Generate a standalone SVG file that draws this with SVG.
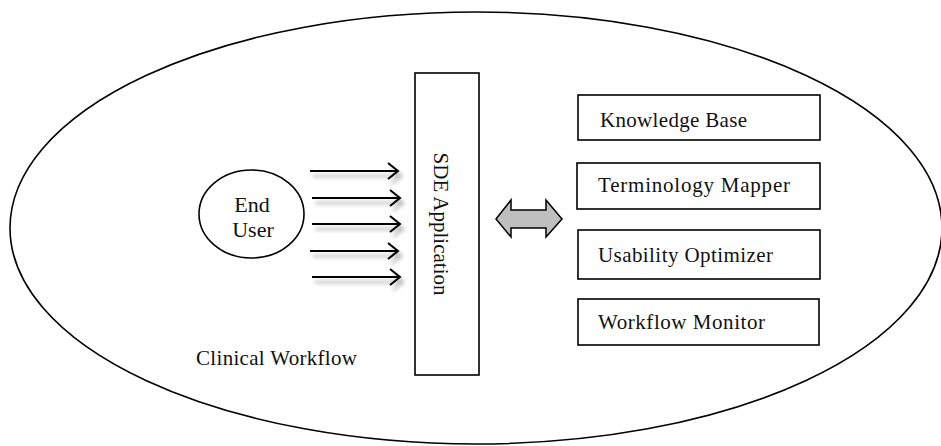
<svg xmlns="http://www.w3.org/2000/svg" width="941" height="446" viewBox="0 0 941 446">
<style>
.t{font-family:"Liberation Serif","Times New Roman",serif;font-size:21px;fill:#111}
.u{font-size:22px}
.box{fill:#fff;stroke:#000;stroke-width:1.6}
.arr{fill:none;stroke:#000;stroke-width:2}
</style>
<defs>
<filter id="sh" x="-20%" y="-100%" width="140%" height="300%">
<feGaussianBlur in="SourceAlpha" stdDeviation="2.2" result="b"/>
<feOffset in="b" dx="3" dy="5" result="o"/>
<feComponentTransfer in="o" result="s"><feFuncA type="linear" slope="0.35"/></feComponentTransfer>
<feMerge><feMergeNode in="s"/><feMergeNode in="SourceGraphic"/></feMerge>
</filter>
</defs>
<rect width="941" height="446" fill="#fff"/>
<g id="clinical-workflow">
<ellipse cx="476" cy="228" rx="466" ry="216" fill="none" stroke="#000" stroke-width="1.6"/>
<text class="t" x="196" y="365" textLength="161">Clinical Workflow</text>
</g>
<g id="end-user">
<ellipse cx="251.5" cy="214" rx="52.5" ry="44" fill="#fff" stroke="#000" stroke-width="1.6"/>
<text class="t u" x="252" y="212" text-anchor="middle">End</text>
<text class="t u" x="253" y="237" text-anchor="middle">User</text>
</g>
<g id="sde-application">
<rect class="box" x="415" y="73" width="64" height="302"/>
<text class="t" transform="translate(441,224) rotate(90)" x="0" y="0" text-anchor="middle" dominant-baseline="central" textLength="143">SDE Application</text>
</g>
<g id="knowledge-base">
<rect class="box" x="578" y="95" width="242" height="45"/>
<text class="t" x="600" y="126.5" textLength="147">Knowledge Base</text>
</g>
<g id="terminology-mapper">
<rect class="box" x="577" y="163" width="243" height="46"/>
<text class="t" x="598" y="192" textLength="192">Terminology Mapper</text>
</g>
<g id="usability-optimizer">
<rect class="box" x="578" y="230" width="242" height="49"/>
<text class="t" x="598" y="262" textLength="175">Usability Optimizer</text>
</g>
<g id="workflow-monitor">
<rect class="box" x="578" y="299" width="241" height="46"/>
<text class="t" x="598" y="328.5" textLength="167">Workflow Monitor</text>
</g>
<g id="connectors">
<g filter="url(#sh)">
<path class="arr" d="M310 171H397M388 163L398 171L388 179"/>
<path class="arr" d="M312 198H399M390 190L400 198L390 206"/>
<path class="arr" d="M312 224H399M390 216L400 224L390 232"/>
<path class="arr" d="M310 251H397M388 243L398 251L388 259"/>
<path class="arr" d="M312 277H399M390 269L400 277L390 285"/>
</g>
<polygon points="496,219 511,200 511,210 546,210 546,200 562,219 546,237 546,228 511,228 511,237" fill="#bfbfbf" stroke="#000" stroke-width="1.5" stroke-linejoin="miter"/>
</g>
</svg>
